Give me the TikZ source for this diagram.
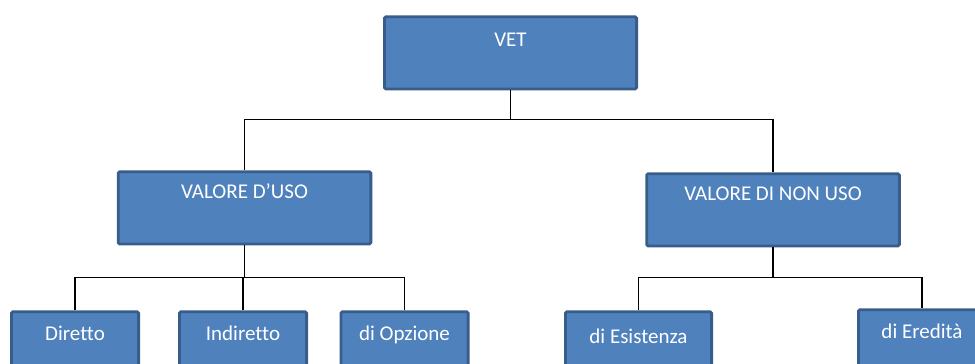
\documentclass[tikz,border=0pt]{standalone}
\usepackage{fontspec}
\setmainfont{Carlito}[Ligatures={TeX,NoCommon}]
\definecolor{boxblue}{HTML}{4F81BD}
\definecolor{boxedge}{HTML}{385D8A}

\begin{document}
\begin{tikzpicture}[x=1pt,y=-1pt,
    vak/.style={draw=boxedge,fill=boxblue,line width=2.8pt,rounded corners=1.5pt,
        text=white,font=\fontsize{21}{25}\selectfont,inner sep=0pt,
        minimum height=72.2pt,anchor=north},
    lv1/.style={vak,text height=29.6pt,text depth=42.6pt,minimum width=252.2pt},
    lv2/.style={vak,text height=26.6pt,text depth=45.6pt,minimum width=252.7pt},
    lv3/.style={vak,text height=28.6pt,text depth=43.6pt,minimum width=127.2pt},
    link/.style={line width=1.2pt}]
    \path[use as bounding box,clip] (0,0) rectangle (975,364);

    % boxes
    \node[lv1] (vet) at (510.5,15.4) {VET};
    \node[lv2] (uso) at (244.5,170.4) {VALORE D’USO};
    \node[lv2] (nonuso) at (773,172.4) {VALORE DI NON USO};
    \node[lv3] (dir) at (75,310.4) {Diretto};
    \node[lv3] (ind) at (243,310.4) {Indiretto};
    \node[lv3] (opz) at (404.5,310.4) {di Opzione};
    \node[lv3,minimum width=146.2pt,text height=31.6pt,text depth=40.6pt] (esi) at (638.5,310.4) {di Esistenza};
    \node[lv3] (ere) at (922,308.4) {di Eredità};

    % connectors
    \draw[link] (vet.south) -- ++(0,29) -| (uso.north);
    \draw[link] (vet.south) -- ++(0,29) -| (nonuso.north);
    \foreach \k in {dir,ind,opz}{
        \draw[link] (uso.south) -- ++(0,32) -| (\k.north);
    }
    \foreach \k in {esi,ere}{
        \draw[link] (nonuso.south) -- ++(0,30) -| (\k.north);
    }
\end{tikzpicture}
\end{document}
